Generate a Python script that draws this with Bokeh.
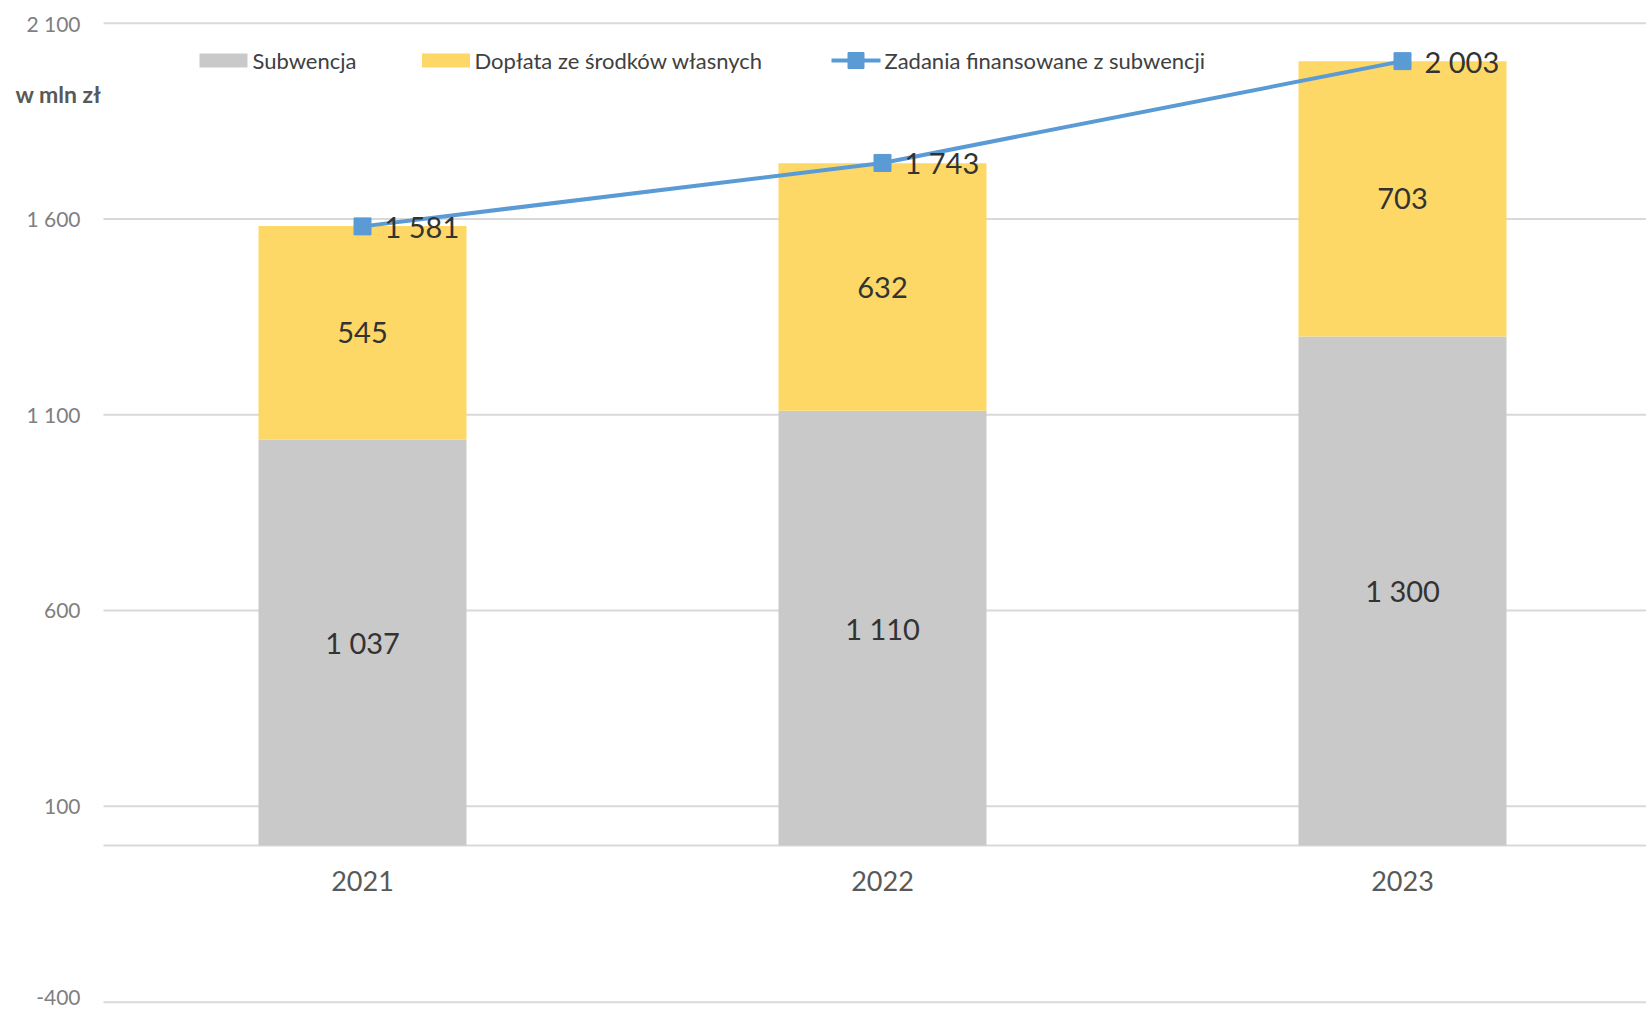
from bokeh.plotting import figure
from bokeh.models import Range1d, ColumnDataSource
from bokeh.core.properties import value
from bokeh.embed import file_html
from bokeh.resources import INLINE

# ---- data ----
years = ["2021", "2022", "2023"]
subwencja = [1037, 1110, 1300]
doplata = [545, 632, 703]
zadania = [1581, 1743, 2003]
y_ticks = [-400, 100, 600, 1100, 1600, 2100]
y_tick_labels = ["-400", "100", "600", "1 100", "1 600", "2 100"]
legend_labels = ["Subwencja", "Dopłata ze środków własnych", "Zadania finansowane z subwencji"]
unit_label = "w mln zł"

def fmt(v):
    return f"{v:,}".replace(",", " ")

# ---- layout helpers (screen px -> data) ----
W, H = 1646, 1011
X0_PX, PX_PER_X = 362, 520.0      # pixel position of first category, px per category
Y0_PX, PX_PER_Y = 845, 0.3916     # pixel position of value 0, px per unit

def px2x(px):
    return (px - X0_PX) / PX_PER_X

def py2y(py):
    return (Y0_PX - py) / PX_PER_Y

FONT = "Lato"
GRAY, YELLOW, BLUE = "#c9c9c9", "#fdd866", "#5b9bd5"

p = figure(width=W, height=H, output_backend="svg", toolbar_location=None,
           x_range=Range1d(px2x(0), px2x(W)), y_range=Range1d(py2y(H), py2y(0)),
           min_border_left=0, min_border_right=0, min_border_top=0, min_border_bottom=0)
p.outline_line_color = None
p.axis.visible = False
p.grid.visible = False

xs = list(range(len(years)))

# gridlines (incl. zero baseline)
grid_vals = y_ticks + [0]
p.segment(x0=[px2x(103)] * len(grid_vals), x1=[px2x(W)] * len(grid_vals),
          y0=grid_vals, y1=grid_vals, line_color="#d9d9d9", line_width=2)

# y tick labels (lowest one nudged up so it stays inside the page)
tick_src = ColumnDataSource(dict(
    x=[px2x(80)] * len(y_ticks), y=y_ticks, t=y_tick_labels,
    off=[-5 if v == min(y_ticks) else 0 for v in y_ticks]))
p.text("x", "y", text="t", y_offset="off", source=tick_src,
       text_align="right", text_baseline="middle", text_font=value(FONT),
       text_font_size="21px", text_color="#7f7f7f")

# unit label
p.text(x=[px2x(15)], y=[py2y(93)], text=[unit_label], text_align="left",
       text_baseline="middle", text_font=value(FONT), text_font_size="23px",
       text_font_style="bold", text_color="#595959")

src = ColumnDataSource(dict(x=xs, sub=subwencja, dop=doplata, tot=zadania,
                            sub_mid=[s / 2 for s in subwencja],
                            dop_mid=[s + d / 2 for s, d in zip(subwencja, doplata)],
                            sub_lbl=[fmt(v) for v in subwencja],
                            dop_lbl=[fmt(v) for v in doplata],
                            tot_lbl=[fmt(v) for v in zadania],
                            year=years, ylab=[py2y(880)] * len(years)))

p.vbar_stack(["sub", "dop"], x="x", width=0.4, source=src,
             color=[GRAY, YELLOW], line_color=None)

p.line("x", "tot", source=src, line_color=BLUE, line_width=4)
p.scatter("x", "tot", source=src, marker="square", size=17,
          fill_color=BLUE, line_color=BLUE)

for ycol, tcol in (("sub_mid", "sub_lbl"), ("dop_mid", "dop_lbl")):
    p.text("x", ycol, text=tcol, source=src, text_align="center",
           text_baseline="middle", text_font=value(FONT), text_font_size="29px",
           text_color="#333333")
p.text("x", "tot", text="tot_lbl", source=src, text_align="left", x_offset=22,
       text_baseline="middle", text_font=value(FONT), text_font_size="29px",
       text_color="#333333")
p.text("x", "ylab", text="year", source=src, text_align="center",
       text_baseline="middle", text_font=value(FONT), text_font_size="27px",
       text_color="#595959")

# ---- legend (drawn manually) ----
ly = py2y(60)
p.rect(x=[px2x(223)], y=[ly], width=48, height=14, width_units="screen",
       height_units="screen", fill_color=GRAY, line_color=None)
p.rect(x=[px2x(445.5)], y=[ly], width=48, height=14, width_units="screen",
       height_units="screen", fill_color=YELLOW, line_color=None)
p.line(x=[px2x(831), px2x(880)], y=[ly, ly], line_color=BLUE, line_width=4)
p.scatter(x=[px2x(855.5)], y=[ly], marker="square", size=16,
          fill_color=BLUE, line_color=BLUE)
p.text(x=[px2x(252), px2x(474), px2x(884)], y=[ly] * 3, text=legend_labels,
       text_align="left", text_baseline="middle", text_font=value(FONT),
       text_font_size="22px", text_color="#404040")

open("out.html", "w").write(file_html(p, INLINE))
